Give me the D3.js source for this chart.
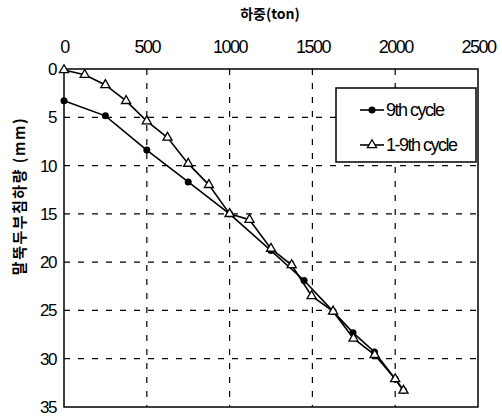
<!doctype html>
<html>
<head>
<meta charset="utf-8" />
<script src="https://d3js.org/d3.v7.min.js"></script>
<style>
  body{ margin:0; background:#fff; }
  text{ fill:#000; }
  .num{ font-family:"Liberation Sans Narrow","Liberation Sans",sans-serif; font-size:18px; letter-spacing:-1.5px; }
  .kr{ font-family:"Noto Sans CJK KR",sans-serif; font-weight:bold; font-size:14px; }
</style>
</head>
<body>
<script>
// 9th cycle
var load9 = [0, 250, 500, 750, 1000, 1250, 1450, 1625, 1745, 1875, 2000, 2050];
var settle9 = [3.3, 4.85, 8.4, 11.7, 15.0, 18.8, 21.9, 25.1, 27.3, 29.3, 32.1, 33.3];
// 1-9th cycle
var loadAll = [0, 125, 250, 375, 500, 625, 750, 875, 1000, 1120, 1250, 1375, 1495, 1625, 1748, 1876, 2000, 2050];
var settleAll = [0.1, 0.6, 1.65, 3.3, 5.4, 7.1, 9.8, 12.0, 15.0, 15.6, 18.6, 20.3, 23.5, 25.1, 27.9, 29.6, 32.1, 33.3];
var xTicks = [0, 500, 1000, 1500, 2000, 2500];
var yTicks = [0, 5, 10, 15, 20, 25, 30, 35];

var svg = d3.select("body").append("svg").attr("width", 502).attr("height", 417);

var x = d3.scaleLinear().domain([0, 2500]).range([64, 478]);
var y = d3.scaleLinear().domain([0, 35]).range([69, 407]);

// grid
svg.append("g").selectAll("line.gx")
  .data(xTicks.slice(1, -1)).enter().append("line")
  .attr("x1", d => x(d)).attr("x2", d => x(d))
  .attr("y1", y(0)).attr("y2", y(35))
  .attr("stroke", "#000").attr("stroke-width", 1.2).attr("stroke-dasharray", "6,8");
svg.append("g").selectAll("line.gy")
  .data(yTicks.slice(1, -1)).enter().append("line")
  .attr("x1", x(0)).attr("x2", x(2500))
  .attr("y1", d => y(d)).attr("y2", d => y(d))
  .attr("stroke", "#000").attr("stroke-width", 1.2).attr("stroke-dasharray", "6,8");

// frame
svg.append("rect").attr("x", x(0)).attr("y", y(0))
  .attr("width", x(2500) - x(0)).attr("height", y(35) - y(0))
  .attr("fill", "none").attr("stroke", "#000").attr("stroke-width", 1.5);

// axes (labels only)
var xAxis = d3.axisTop(x).tickValues(xTicks).tickFormat(d3.format("d")).tickSize(0).tickPadding(0);
var gx = svg.append("g").attr("transform", "translate(0,53)").call(xAxis);
gx.select(".domain").remove();
gx.attr("font-size", null).attr("font-family", null);
gx.selectAll("text").attr("class", "num").attr("fill", "#000");

var yAxis = d3.axisLeft(y).tickValues(yTicks).tickSize(0).tickPadding(0);
var gy = svg.append("g").attr("transform", "translate(56,0)").call(yAxis);
gy.select(".domain").remove();
gy.attr("font-size", null).attr("font-family", null);
gy.selectAll("text").attr("class", "num").style("font-size", "17px").attr("fill", "#000");

// titles
svg.append("text").attr("class", "kr").attr("x", 270).attr("y", 19)
  .attr("text-anchor", "middle").text("하중(ton)");
svg.append("text").attr("class", "kr").style("font-size", "15px").style("letter-spacing", "1.5px")
  .attr("transform", "translate(25,196) rotate(-90)")
  .attr("text-anchor", "middle").text("말뚝두부침하량 (mm)");

var line = d3.line().x(d => x(d[0])).y(d => y(d[1]));
var s9 = load9.map((d, i) => [d, settle9[i]]);
var sAll = loadAll.map((d, i) => [d, settleAll[i]]);
var tri = d3.symbol().type(d3.symbolTriangle).size(36);

svg.append("path").datum(s9).attr("d", line)
  .attr("fill", "none").attr("stroke", "#000").attr("stroke-width", 1.6);
svg.append("path").datum(sAll).attr("d", line)
  .attr("fill", "none").attr("stroke", "#000").attr("stroke-width", 1.6);

svg.selectAll("circle.p9").data(s9).enter().append("circle")
  .attr("cx", d => x(d[0])).attr("cy", d => y(d[1])).attr("r", 3.5).attr("fill", "#000");
svg.selectAll("path.pa").data(sAll).enter().append("path")
  .attr("d", tri).attr("transform", d => `translate(${x(d[0])},${y(d[1])})`)
  .attr("fill", "#fff").attr("stroke", "#000").attr("stroke-width", 1.3);

// legend
var lg = svg.append("g");
lg.append("rect").attr("x", 336).attr("y", 88).attr("width", 140).attr("height", 74)
  .attr("fill", "#fff").attr("stroke", "#000").attr("stroke-width", 1.5);
lg.append("line").attr("x1", 360).attr("x2", 384).attr("y1", 110).attr("y2", 110)
  .attr("stroke", "#000").attr("stroke-width", 1.6);
lg.append("circle").attr("cx", 372).attr("cy", 110).attr("r", 3.5).attr("fill", "#000");
lg.append("text").attr("class", "num").attr("x", 386).attr("y", 116).text("9th cycle");
lg.append("line").attr("x1", 360).attr("x2", 384).attr("y1", 145).attr("y2", 145)
  .attr("stroke", "#000").attr("stroke-width", 1.6);
lg.append("path").attr("d", tri).attr("transform", "translate(372,145)")
  .attr("fill", "#fff").attr("stroke", "#000").attr("stroke-width", 1.3);
lg.append("text").attr("class", "num").attr("x", 386).attr("y", 151).text("1-9th cycle");
</script>
</body>
</html>
